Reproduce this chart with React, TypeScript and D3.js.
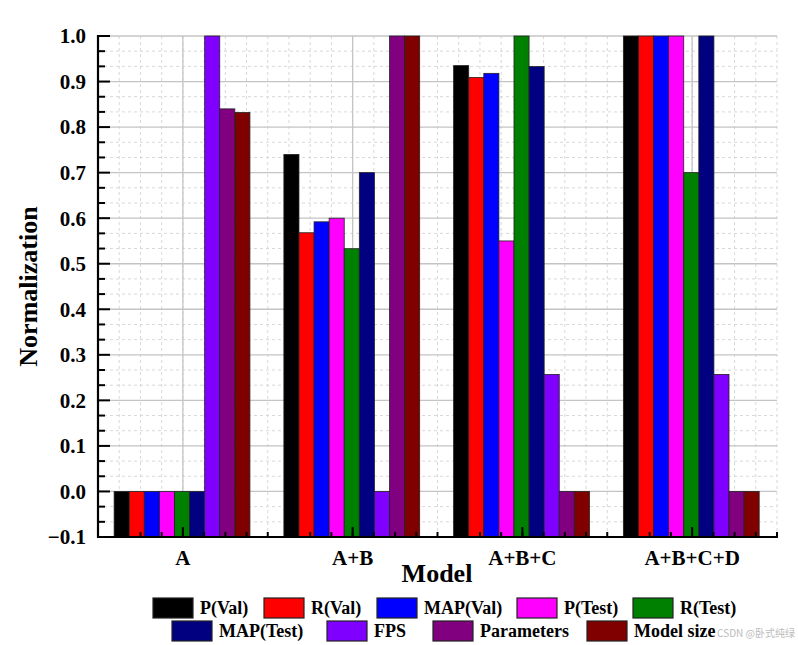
import * as d3 from "d3";

const models = ["A", "A+B", "A+B+C", "A+B+C+D"];
const seriesNames = [
    "P(Val)",
    "R(Val)",
    "MAP(Val)",
    "P(Test)",
    "R(Test)",
    "MAP(Test)",
    "FPS",
    "Parameters",
    "Model size",
];
const seriesColors = [
    "#000000",
    "#ff0000",
    "#0000ff",
    "#ff00ff",
    "#008000",
    "#000080",
    "#8000ff",
    "#800080",
    "#800000",
];

// one row per model, one value per series
const valuesA = [0, 0, 0, 0, 0, 0, 1.0, 0.84, 0.832];
const valuesAB = [0.74, 0.568, 0.592, 0.6, 0.533, 0.7, 0, 1.0, 1.0];
const valuesABC = [0.935, 0.909, 0.918, 0.55, 1.0, 0.933, 0.257, 0, 0];
const valuesABCD = [1.0, 1.0, 1.0, 1.0, 0.7, 1.0, 0.257, 0, 0];
const values = [valuesA, valuesAB, valuesABC, valuesABCD];

const yTicks = [-0.1, 0, 0.1, 0.2, 0.3, 0.4, 0.5, 0.6, 0.7, 0.8, 0.9, 1.0];

// legend rows: series index groups
const legendRow1 = [0, 1, 2, 3, 4];
const legendRow2 = [5, 6, 7, 8];

const width = 798;
const height = 645;
const margin = { top: 36, right: 21, bottom: 108, left: 98 };
const font = "'Liberation Serif', 'Times New Roman', serif";

export default function App() {
    const x = d3
        .scaleBand<string>()
        .domain(models)
        .range([margin.left, width - margin.right])
        .padding(0);
    const bw = x.bandwidth();
    const xs = d3
        .scaleBand<string>()
        .domain(seriesNames)
        .range([bw * 0.095, bw * 0.895])
        .padding(0);
    const y = d3
        .scaleLinear()
        .domain([yTicks[0], yTicks[yTicks.length - 1]])
        .range([height - margin.bottom, margin.top]);

    const x0 = margin.left;
    const x1 = width - margin.right;
    const yBase = y(yTicks[0]);
    const yTop = y(yTicks[yTicks.length - 1]);

    // minor positions
    const xMinor: number[] = [];
    models.forEach((m) => {
        for (let k = 0; k < 8; k++) xMinor.push((x(m) || 0) + (k * bw) / 8);
    });
    xMinor.push(x1);
    const xMajor = models.map((m) => (x(m) || 0) + bw / 2);
    const yMinor: number[] = [];
    for (let i = 0; i < yTicks.length - 1; i++) {
        const step = (yTicks[i + 1] - yTicks[i]) / 3;
        yMinor.push(yTicks[i] + step, yTicks[i] + 2 * step);
    }

    const fmt = (v: number) => (v < 0 ? "\u2212" : "") + Math.abs(v).toFixed(1);

    const legendX1 = [153, 264, 377, 517, 633];
    const legendX2 = [172, 327, 433, 587];

    return (
        <svg
            width={width}
            height={height}
            style={{ position: "absolute", left: 0, top: 0, background: "#fff" }}
            fontFamily={font}
            fontWeight="bold"
        >
            {/* grid */}
            <g>
                {xMinor.map((px, i) => (
                    <line
                        key={"vx" + i}
                        x1={px}
                        x2={px}
                        y1={yTop}
                        y2={yBase}
                        stroke="#d8d8d8"
                        strokeWidth={1}
                        strokeDasharray="3,3"
                    />
                ))}
                {yMinor.map((v, i) => (
                    <line
                        key={"hy" + i}
                        x1={x0}
                        x2={x1}
                        y1={y(v)}
                        y2={y(v)}
                        stroke="#d8d8d8"
                        strokeWidth={1}
                        strokeDasharray="3,3"
                    />
                ))}
                {xMajor.map((px, i) => (
                    <line
                        key={"vm" + i}
                        x1={px}
                        x2={px}
                        y1={yTop}
                        y2={yBase}
                        stroke="#c4c4c4"
                        strokeWidth={1.3}
                    />
                ))}
                {yTicks.map((v, i) => (
                    <line
                        key={"hm" + i}
                        x1={x0}
                        x2={x1}
                        y1={y(v)}
                        y2={y(v)}
                        stroke="#c4c4c4"
                        strokeWidth={1.3}
                    />
                ))}
            </g>

            {/* bars */}
            <g>
                {models.map((m, gi) => (
                    <g key={m} transform={`translate(${x(m) || 0},0)`}>
                        {values[gi].map((v, si) => (
                            <rect
                                key={si}
                                x={xs(seriesNames[si]) || 0}
                                y={y(v)}
                                width={xs.bandwidth()}
                                height={yBase - y(v)}
                                fill={seriesColors[si]}
                                stroke="#222"
                                strokeWidth={0.8}
                            />
                        ))}
                    </g>
                ))}
            </g>

            {/* axes */}
            <g>
                {xMinor.map((px, i) => (
                    <line key={"xt" + i} x1={px} x2={px} y1={yBase} y2={yBase - 5} stroke="#000" strokeWidth={2} />
                ))}
                {xMajor.map((px, i) => (
                    <line key={"xT" + i} x1={px} x2={px} y1={yBase} y2={yBase - 10} stroke="#000" strokeWidth={2} />
                ))}
                {yMinor.map((v, i) => (
                    <line key={"yt" + i} x1={x0} x2={x0 + 7} y1={y(v)} y2={y(v)} stroke="#000" strokeWidth={2} />
                ))}
                {yTicks.map((v, i) => (
                    <line key={"yT" + i} x1={x0} x2={x0 + 12} y1={y(v)} y2={y(v)} stroke="#000" strokeWidth={2} />
                ))}
                <line x1={x0} x2={x0} y1={yTop - 1} y2={yBase + 1} stroke="#000" strokeWidth={2.2} />
                <line x1={x0 - 1} x2={x1 + 1} y1={yBase} y2={yBase} stroke="#000" strokeWidth={2.2} />

                {yTicks.map((v, i) => (
                    <text
                        key={"yl" + i}
                        x={x0 - 12}
                        y={y(v)}
                        dy="0.35em"
                        textAnchor="end"
                        fontSize={21}
                        fill="#000"
                    >
                        {fmt(v)}
                    </text>
                ))}
                {models.map((m, i) => (
                    <text key={"xl" + i} x={xMajor[i]} y={565} textAnchor="middle" fontSize={21} fill="#000">
                        {m}
                    </text>
                ))}
            </g>

            {/* axis titles */}
            <text x={437} y={582} textAnchor="middle" fontSize={26} fill="#000">
                Model
            </text>
            <text
                transform={`translate(37,${(yTop + yBase) / 2}) rotate(-90)`}
                textAnchor="middle"
                fontSize={26}
                fill="#000"
            >
                Normalization
            </text>

            {/* legend */}
            <g>
                {legendRow1.map((si, i) => (
                    <g key={"l1" + si} transform={`translate(${legendX1[i]},598)`}>
                        <rect width={40} height={20} fill={seriesColors[si]} stroke="#222" strokeWidth={1.2} />
                        <text x={47} y={16} fontSize={18} fill="#000">
                            {seriesNames[si]}
                        </text>
                    </g>
                ))}
                {legendRow2.map((si, i) => (
                    <g key={"l2" + si} transform={`translate(${legendX2[i]},621)`}>
                        <rect width={40} height={20} fill={seriesColors[si]} stroke="#222" strokeWidth={1.2} />
                        <text x={47} y={16} fontSize={18} fill="#000">
                            {seriesNames[si]}
                        </text>
                    </g>
                ))}
            </g>

            <text
                x={795}
                y={637}
                textAnchor="end"
                fontSize={10}
                fontWeight="normal"
                fontFamily="'Noto Sans CJK SC', 'Noto Sans', sans-serif"
                fill="#bbb"
            >
                CSDN @卧式纯绿
            </text>
        </svg>
    );
}
